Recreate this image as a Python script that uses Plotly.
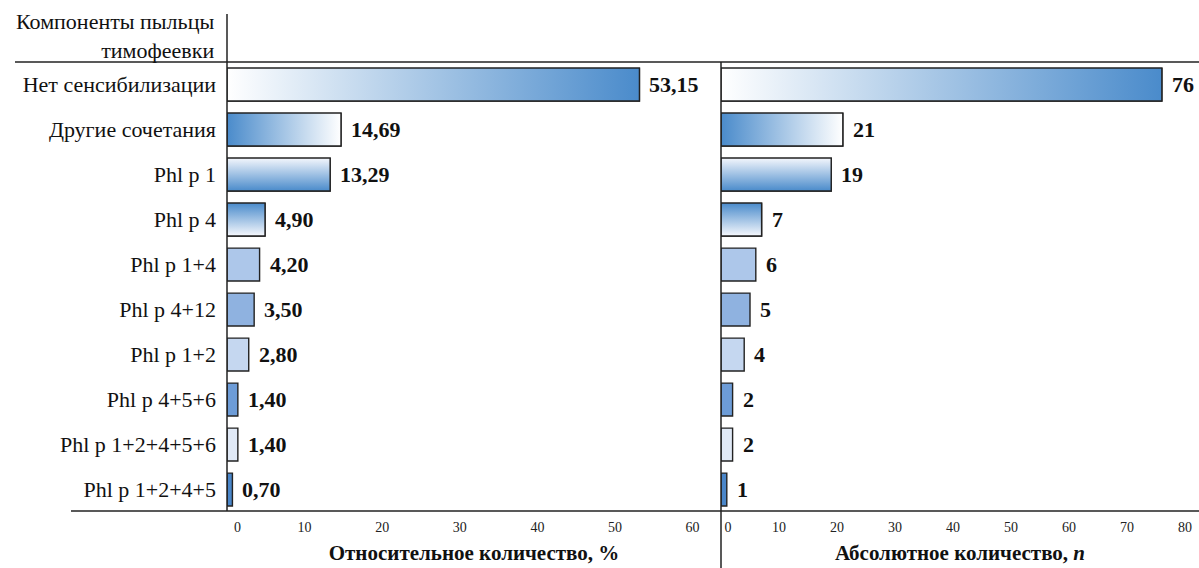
import plotly.graph_objects as go

categories = ["Нет сенсибилизации", "Другие сочетания", "Phl p 1", "Phl p 4", "Phl p 1+4",
              "Phl p 4+12", "Phl p 1+2", "Phl p 4+5+6", "Phl p 1+2+4+5+6", "Phl p 1+2+4+5"]
percent_values = [53.15, 14.69, 13.29, 4.90, 4.20, 3.50, 2.80, 1.40, 1.40, 0.70]
count_values = [76, 21, 19, 7, 6, 5, 4, 2, 2, 1]
percent_ticks = [0, 10, 20, 30, 40, 50, 60]
count_ticks = [0, 10, 20, 30, 40, 50, 60, 70, 80]

header_text = "Компоненты пыльцы<br>тимофеевки"
left_title = "Относительное количество, %"
right_title = "Абсолютное количество, <i>n</i>"

BLUE = "#4a8bcb"
WHITE = "#ffffff"
# fill style per category: ("h"/"v", colorscale) for gradients, or solid colour
styles = [
    ("h", [[0, WHITE], [1, BLUE]]),
    ("h", [[0, BLUE], [1, WHITE]]),
    ("v", [[0, BLUE], [1, "#f3f6fc"]]),
    ("v", [[0, "#f6f8fd"], [1, BLUE]]),
    "#adc7ea",
    "#8fb2e0",
    "#c5d7f0",
    "#6d9cd7",
    "#e0e9f6",
    "#4a86c9",
]

W, H = 1199, 568
FONT = "Liberation Serif"
LINE = "#222222"
BAR_W = 0.73
NBSP = "\u00a0"

def px_x(p):
    return p / W

def px_y(p):
    return (H - p) / H

def tick_labels(ticks, zero_pad):
    # the zero label sits a little to the right of the axis line, as in the source
    return [(NBSP * zero_pad + "0") if t == 0 else str(t) for t in ticks]

fig = go.Figure()
ypos = list(range(len(categories)))

for values, xa, ya, fmt in [(percent_values, "x", "y", lambda v: f"{v:.2f}".replace(".", ",")),
                            (count_values, "x2", "y2", lambda v: f"{v}")]:
    colors = [s if isinstance(s, str) else "rgba(0,0,0,0)" for s in styles]
    fig.add_trace(go.Bar(
        x=values, y=ypos, orientation="h", width=BAR_W,
        marker=dict(color=colors, line=dict(color=LINE, width=1.4)),
        xaxis=xa, yaxis=ya, showlegend=False,
        hovertemplate="%{x}<extra></extra>",
    ))
    # gradient-filled bars
    for i, s in enumerate(styles):
        if isinstance(s, str):
            continue
        kind, cs = s
        v = values[i]
        fig.add_trace(go.Scatter(
            x=[0, v, v, 0, 0],
            y=[i - BAR_W / 2, i - BAR_W / 2, i + BAR_W / 2, i + BAR_W / 2, i - BAR_W / 2],
            mode="lines", fill="toself",
            fillgradient=dict(type="horizontal" if kind == "h" else "vertical", colorscale=cs),
            line=dict(color=LINE, width=1.4),
            xaxis=xa, yaxis=ya, showlegend=False, hoverinfo="skip",
        ))
    for i, v in enumerate(values):
        fig.add_annotation(
            x=v, y=i, xref=xa, yref=ya, text=f"<b>{fmt(v)}</b>",
            showarrow=False, xanchor="left", yanchor="middle", xshift=8,
            font=dict(family=FONT, size=22, color="#111111"),
        )

y_dom = [px_y(512), px_y(62)]
x1_dom = [px_x(227), px_x(721)]
x2_dom = [px_x(721), 1.0]

fig.update_layout(
    width=W, height=H,
    margin=dict(l=0, r=0, t=0, b=0),
    paper_bgcolor="white", plot_bgcolor="white",
    font=dict(family=FONT, color="#111111"),
    bargap=0.27,
    xaxis=dict(domain=x1_dom, range=[0, 63.66], tickvals=percent_ticks,
               ticktext=tick_labels(percent_ticks, 6), showgrid=False,
               zeroline=False, showline=False, ticks="", ticklabelstandoff=5,
               tickfont=dict(family=FONT, size=14, color="#222222"), automargin=False,
               title=dict(text=f"<b>{left_title}</b>", standoff=11,
                          font=dict(family=FONT, size=21, color="#111111"))),
    xaxis2=dict(domain=x2_dom, range=[0, 82.4], tickvals=count_ticks,
                ticktext=tick_labels(count_ticks, 4), showgrid=False,
                zeroline=False, showline=False, ticks="", ticklabelstandoff=5,
                tickfont=dict(family=FONT, size=14, color="#222222"), automargin=False,
                anchor="y2",
                title=dict(text=f"<b>{right_title}</b>", standoff=11,
                           font=dict(family=FONT, size=21, color="#111111"))),
    yaxis=dict(domain=y_dom, range=[9.5, -0.5], tickvals=ypos, ticktext=categories,
               showgrid=False, zeroline=False, showline=False, ticks="",
               ticklabelstandoff=10, automargin=False,
               tickfont=dict(family=FONT, size=22, color="#111111")),
    yaxis2=dict(domain=y_dom, range=[9.5, -0.5], anchor="x2", showticklabels=False,
                showgrid=False, zeroline=False, showline=False, ticks=""),
)

fig.add_annotation(
    x=px_x(216), y=px_y(36), xref="paper", yref="paper", text=header_text,
    showarrow=False, xanchor="right", yanchor="middle", align="right",
    font=dict(family=FONT, size=22, color="#111111"),
)

shape_line = dict(color=LINE, width=1.5)
fig.add_shape(type="line", xref="paper", yref="paper", x0=px_x(15), x1=1.0,
              y0=px_y(62), y1=px_y(62), line=shape_line)
fig.add_shape(type="line", xref="paper", yref="paper", x0=px_x(71), x1=1.0,
              y0=px_y(511), y1=px_y(511), line=shape_line)
fig.add_shape(type="line", xref="paper", yref="paper", x0=px_x(227), x1=px_x(227),
              y0=px_y(511), y1=px_y(14), line=shape_line)
fig.add_shape(type="line", xref="paper", yref="paper", x0=px_x(721), x1=px_x(721),
              y0=0.0, y1=px_y(62), line=shape_line)

fig.write_html("out.html")
